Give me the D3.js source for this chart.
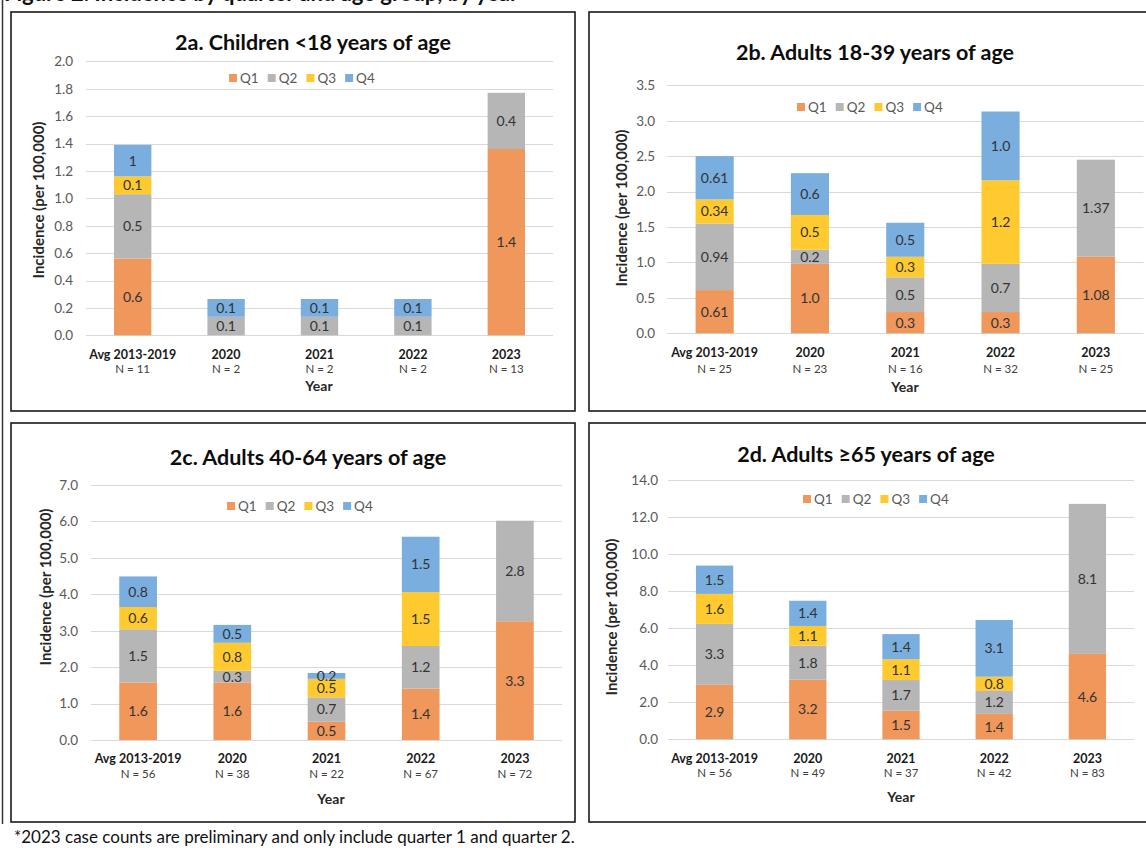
<!DOCTYPE html>
<html>
<head>
<meta charset="utf-8">
<script src="https://cdn.jsdelivr.net/npm/d3@7"></script>
<style>
  html, body { margin: 0; padding: 0; background: #fff; }
  svg { display: block; font-family: Lato, "Open Sans", sans-serif; }
</style>
</head>
<body>
<svg id="fig" width="1146" height="848"></svg>
<script>
// ---- Data -------------------------------------------------------------
const categories = ["Avg 2013-2019", "2020", "2021", "2022", "2023"];
const quarters = ["Q1", "Q2", "Q3", "Q4"];

// 2a. Children <18 years (rates per 100,000; rows = Q1..Q4)
const childrenRates = [
  [0.56, 0, 0, 0, 1.36],
  [0.47, 0.135, 0.135, 0.135, 0.41],
  [0.13, 0, 0, 0, 0],
  [0.23, 0.13, 0.13, 0.13, 0]
];
const childrenLabels = [
  ["0.6", null, null, null, "1.4"],
  ["0.5", "0.1", "0.1", "0.1", "0.4"],
  ["0.1", null, null, null, null],
  ["1", "0.1", "0.1", "0.1", null]
];
const childrenN = [11, 2, 2, 2, 13];
const childrenTicks = [0, 0.2, 0.4, 0.6, 0.8, 1.0, 1.2, 1.4, 1.6, 1.8, 2.0];

// 2b. Adults 18-39 years
const adults18Rates = [
  [0.61, 0.98, 0.30, 0.30, 1.08],
  [0.94, 0.20, 0.49, 0.68, 1.37],
  [0.34, 0.49, 0.29, 1.18, 0],
  [0.61, 0.59, 0.48, 0.97, 0]
];
const adults18Labels = [
  ["0.61", "1.0", "0.3", "0.3", "1.08"],
  ["0.94", "0.2", "0.5", "0.7", "1.37"],
  ["0.34", "0.5", "0.3", "1.2", null],
  ["0.61", "0.6", "0.5", "1.0", null]
];
const adults18N = [25, 23, 16, 32, 25];
const adults18Ticks = [0, 0.5, 1.0, 1.5, 2.0, 2.5, 3.0, 3.5];

// 2c. Adults 40-64 years
const adults40Rates = [
  [1.58, 1.58, 0.50, 1.41, 3.26],
  [1.46, 0.32, 0.67, 1.17, 2.76],
  [0.61, 0.77, 0.51, 1.48, 0],
  [0.84, 0.49, 0.16, 1.52, 0]
];
const adults40Labels = [
  ["1.6", "1.6", "0.5", "1.4", "3.3"],
  ["1.5", "0.3", "0.7", "1.2", "2.8"],
  ["0.6", "0.8", "0.5", "1.5", null],
  ["0.8", "0.5", "0.2", "1.5", null]
];
const adults40N = [56, 38, 22, 67, 72];
const adults40Ticks = [0, 1, 2, 3, 4, 5, 6, 7];

// 2d. Adults >=65 years
const adults65Rates = [
  [2.94, 3.22, 1.54, 1.37, 4.61],
  [3.29, 1.84, 1.66, 1.24, 8.10],
  [1.62, 1.06, 1.12, 0.77, 0],
  [1.53, 1.36, 1.36, 3.06, 0]
];
const adults65Labels = [
  ["2.9", "3.2", "1.5", "1.4", "4.6"],
  ["3.3", "1.8", "1.7", "1.2", "8.1"],
  ["1.6", "1.1", "1.1", "0.8", null],
  ["1.5", "1.4", "1.4", "3.1", null]
];
const adults65N = [56, 49, 37, 42, 83];
const adults65Ticks = [0, 2, 4, 6, 8, 10, 12, 14];

const footnote = "*2023 case counts are preliminary and only include quarter 1 and quarter 2.";

// ---- Styling ----------------------------------------------------------
const quarterColors = ["#F0975B", "#B6B6B6", "#FFCA30", "#79AEDE"];
const color = d3.scaleOrdinal().domain(quarters).range(quarterColors);

const svg = d3.select("#fig");

// outer frame edge and figure heading (runs off the top of the page)
svg.append("text")
  .attr("x", 4).attr("y", 1)
  .attr("font-size", 22).attr("font-weight", 700).attr("fill", "#111")
  .text("Figure 2. Incidence by quarter and age group, by year");
svg.append("line")
  .attr("x1", 2.5).attr("x2", 2.5).attr("y1", 0).attr("y2", 824)
  .attr("stroke", "#333").attr("stroke-width", 1.5);

function drawPanel(cfg) {
  const g = svg.append("g");

  // panel frame
  g.append("rect")
    .attr("x", cfg.box[0]).attr("y", cfg.box[1])
    .attr("width", cfg.box[2] - cfg.box[0]).attr("height", cfg.box[3] - cfg.box[1])
    .attr("fill", "#fff").attr("stroke", "#1a1a1a").attr("stroke-width", 1.6);

  const yMax = cfg.ticks[cfg.ticks.length - 1];
  const y = d3.scaleLinear().domain([0, yMax]).range([cfg.plot.bottom, cfg.plot.top]);
  const x = d3.scaleBand().domain(categories)
    .range([cfg.plot.left, cfg.plot.right])
    .paddingInner(0.6).paddingOuter(0.3);

  // gridlines
  g.append("g").selectAll("line").data(cfg.ticks).join("line")
    .attr("x1", cfg.plot.left).attr("x2", cfg.plot.right)
    .attr("y1", d => Math.round(y(d)) + 0.5).attr("y2", d => Math.round(y(d)) + 0.5)
    .attr("stroke", "#D9D9D9").attr("stroke-width", 1.2);

  // y axis labels
  const yAxis = d3.axisLeft(y).tickValues(cfg.ticks).tickFormat(d3.format(".1f"))
    .tickSize(0).tickPadding(0);
  const ya = g.append("g").attr("transform", `translate(${cfg.tickRight},0)`).call(yAxis);
  ya.select(".domain").remove();
  ya.selectAll("text").attr("font-size", 13.5).attr("fill", "#595959")
    .attr("font-family", "Lato, sans-serif");

  // stacked bars
  const rows = categories.map((c, i) => {
    const r = { category: c };
    quarters.forEach((q, k) => { r[q] = cfg.rates[k][i]; });
    return r;
  });
  const stacked = d3.stack().keys(quarters)(rows);

  const layer = g.append("g").selectAll("g").data(stacked).join("g")
    .attr("fill", d => color(d.key));
  layer.selectAll("rect").data(d => d).join("rect")
    .attr("x", d => x(d.data.category))
    .attr("width", x.bandwidth())
    .attr("y", d => y(d[1]))
    .attr("height", d => Math.max(0, y(d[0]) - y(d[1])));

  // data labels
  const labelData = [];
  stacked.forEach((s, k) => {
    s.forEach((d, i) => {
      const txt = cfg.labels[k][i];
      if (txt !== null) labelData.push({ cat: d.data.category, mid: (d[0] + d[1]) / 2, txt });
    });
  });
  g.append("g").selectAll("text").data(labelData).join("text")
    .attr("x", d => x(d.cat) + x.bandwidth() / 2)
    .attr("y", d => y(d.mid))
    .attr("dy", "0.35em")
    .attr("text-anchor", "middle")
    .attr("font-size", 14).attr("fill", "#333")
    .text(d => d.txt);

  // category labels + case counts
  const cats = g.append("g").selectAll("g").data(categories).join("g")
    .attr("transform", c => `translate(${x(c) + x.bandwidth() / 2},0)`);
  cats.append("text")
    .attr("y", cfg.catY).attr("dy", "0.35em").attr("text-anchor", "middle")
    .attr("font-size", 12.5).attr("font-weight", 700).attr("fill", "#1a1a1a")
    .text(c => c);
  cats.append("text")
    .attr("y", cfg.nY).attr("dy", "0.35em").attr("text-anchor", "middle")
    .attr("font-size", 11.5).attr("fill", "#404040")
    .text((c, i) => "N = " + cfg.n[i]);

  // axis titles
  g.append("text")
    .attr("x", cfg.yearPos[0]).attr("y", cfg.yearPos[1]).attr("dy", "0.35em")
    .attr("text-anchor", "middle").attr("font-size", 14).attr("font-weight", 700)
    .attr("fill", "#262626").text("Year");
  g.append("text")
    .attr("transform", `translate(${cfg.yTitlePos[0]},${cfg.yTitlePos[1]}) rotate(-90)`)
    .attr("dy", "0.35em").attr("text-anchor", "middle")
    .attr("font-size", 15).attr("font-weight", 700).attr("fill", "#262626")
    .text("Incidence (per 100,000)");

  // chart title
  g.append("text")
    .attr("x", cfg.titlePos[0]).attr("y", cfg.titlePos[1]).attr("dy", "0.35em")
    .attr("text-anchor", "middle").attr("font-size", 21.5).attr("font-weight", 700)
    .attr("fill", "#0d0d0d").text(cfg.title);

  // legend
  const leg = g.append("g").attr("transform", `translate(${cfg.legendPos[0]},${cfg.legendPos[1]})`);
  const items = leg.selectAll("g").data(quarters).join("g")
    .attr("transform", (q, i) => `translate(${i * 38.7},0)`);
  items.append("rect").attr("x", 0).attr("y", -4).attr("width", 8).attr("height", 8)
    .attr("fill", q => color(q));
  items.append("text").attr("x", 11).attr("dy", "0.35em")
    .attr("font-size", 13.5).attr("fill", "#595959").text(q => q);
}

drawPanel({
  title: "2a. Children <18 years of age",
  rates: childrenRates, labels: childrenLabels, n: childrenN, ticks: childrenTicks,
  box: [11, 12, 575, 411],
  plot: { left: 86, right: 553, top: 61.3, bottom: 335.3 },
  tickRight: 73, titlePos: [313, 42], legendPos: [229, 78],
  catY: 355, nY: 368.5, yearPos: [319, 386], yTitlePos: [39, 200]
});

drawPanel({
  title: "2b. Adults 18-39 years of age",
  rates: adults18Rates, labels: adults18Labels, n: adults18N, ticks: adults18Ticks,
  box: [589, 12, 1152, 411],
  plot: { left: 667, right: 1143.5, top: 85.3, bottom: 333.3 },
  tickRight: 655, titlePos: [875, 52], legendPos: [797, 107],
  catY: 353, nY: 368.5, yearPos: [905, 387], yTitlePos: [622, 208]
});

drawPanel({
  title: "2c. Adults 40-64 years of age",
  rates: adults40Rates, labels: adults40Labels, n: adults40N, ticks: adults40Ticks,
  box: [11, 423, 575, 822],
  plot: { left: 91, right: 562, top: 485, bottom: 740 },
  tickRight: 78, titlePos: [308, 457], legendPos: [227, 506],
  catY: 759, nY: 774, yearPos: [331, 799], yTitlePos: [46, 587]
});

drawPanel({
  title: "2d. Adults \u226565 years of age",
  rates: adults65Rates, labels: adults65Labels, n: adults65N, ticks: adults65Ticks,
  box: [589, 423, 1152, 822],
  plot: { left: 668, right: 1134, top: 480, bottom: 739.3 },
  tickRight: 658, titlePos: [866, 454], legendPos: [803, 499],
  catY: 759, nY: 773, yearPos: [901, 797], yTitlePos: [612, 617]
});

svg.append("text")
  .attr("x", 14).attr("y", 837).attr("dy", "0.35em")
  .attr("font-size", 17).attr("fill", "#111")
  .text(footnote);
</script>
</body>
</html>
